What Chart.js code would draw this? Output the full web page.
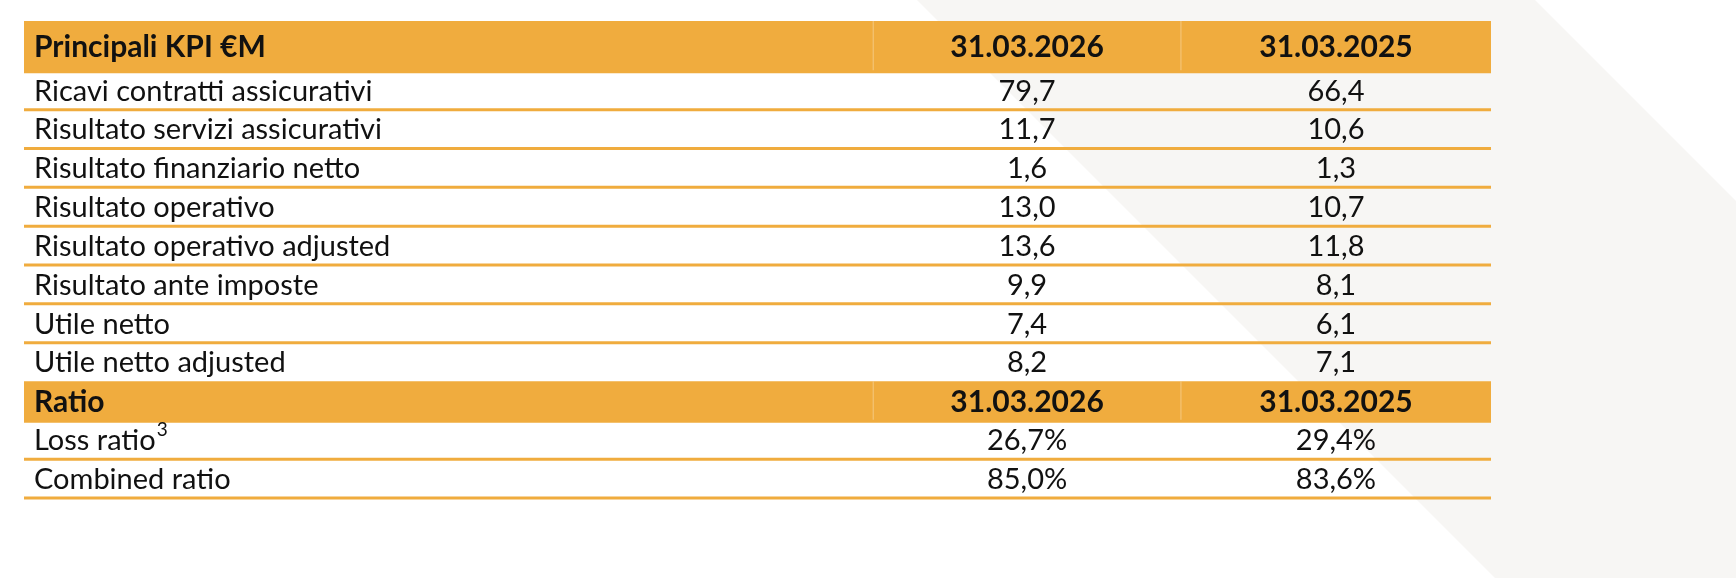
<!DOCTYPE html>
<html><head><meta charset="utf-8">
<script src="https://cdn.jsdelivr.net/npm/chart.js@4/dist/chart.umd.min.js"></script>
<style>html,body{margin:0;padding:0;background:#fff}#w{width:1736px;height:578px}</style>
</head><body><div id="w"><canvas id="c"></canvas></div>
<script>
const rowLabels = ["Principali KPI €M","Ricavi contratti assicurativi","Risultato servizi assicurativi","Risultato finanziario netto","Risultato operativo","Risultato operativo adjusted","Risultato ante imposte","Utile netto","Utile netto adjusted","Ratio","Loss ratio","Combined ratio"];
const headerRows = [0, 9];
const superscripts = {10: "3"};
const col2026 = ["31.03.2026","79,7","11,7","1,6","13,0","13,6","9,9","7,4","8,2","31.03.2026","26,7%","85,0%"];
const col2025 = ["31.03.2025","66,4","10,6","1,3","10,7","11,8","8,1","6,1","7,1","31.03.2025","29,4%","83,6%"];
const colBounds = [0, 1.835, 2.5, 3.17];

const ORANGE = "#F0AC3E";
const headerBars = rowLabels.map((_, i) => headerRows.includes(i) ? [colBounds[0], colBounds[3]] : null);

const bg = {
  id: "bg",
  beforeDraw(chart) {
    const ctx = chart.ctx;
    ctx.save();
    ctx.fillStyle = "#f7f6f4";
    ctx.beginPath();
    ctx.moveTo(917, 0); ctx.lineTo(1535, 0); ctx.lineTo(1535 + 578, 578); ctx.lineTo(917 + 578, 578);
    ctx.closePath(); ctx.fill();
    ctx.restore();
  }
};

const table = {
  id: "table",
  afterDatasetsDraw(chart) {
    const ctx = chart.ctx, x = chart.scales.x, y = chart.scales.y;
    const step = y.getPixelForValue(1) - y.getPixelForValue(0);
    const extra = 11;
    ctx.save();
    // taller first header
    ctx.fillStyle = ORANGE;
    const t0 = y.getPixelForValue(0) - step / 2;
    ctx.fillRect(x.left, t0 - extra, x.right - x.left, extra + 1);
    for (let i = 0; i < rowLabels.length; i++) {
      const yb = y.getPixelForValue(i) + step / 2;
      if (headerRows.includes(i)) {
        const top = yb - step - (i === 0 ? extra : 0);
        ctx.strokeStyle = "rgba(255,255,255,0.35)"; ctx.lineWidth = 1;
        [1, 2].forEach(k => { const xx = x.getPixelForValue(colBounds[k]); ctx.beginPath(); ctx.moveTo(xx, top); ctx.lineTo(xx, yb); ctx.stroke(); });
        ctx.strokeStyle = ORANGE; ctx.lineWidth = 3;
        ctx.beginPath(); ctx.moveTo(x.left, yb + 1); ctx.lineTo(x.right, yb + 1); ctx.stroke();
      } else if (!headerRows.includes(i + 1)) {
        ctx.strokeStyle = ORANGE; ctx.lineWidth = 3;
        ctx.beginPath(); ctx.moveTo(x.left, yb); ctx.lineTo(x.right, yb); ctx.stroke();
      }
    }
    ctx.fillStyle = "#111"; ctx.textBaseline = "middle";
    for (let i = 0; i < rowLabels.length; i++) {
      const yc = y.getPixelForValue(i) + 1 - (i === 0 ? extra / 2 : 0);
      const bold = headerRows.includes(i);
      const f = bold ? "bold 30px Lato" : "29px Lato";
      ctx.font = f; ctx.textAlign = "left";
      const lx = x.getPixelForValue(colBounds[0]) + 10;
      ctx.fillText(rowLabels[i], lx, yc);
      if (superscripts[i]) {
        const w = ctx.measureText(rowLabels[i]).width;
        ctx.font = "19px Lato"; ctx.fillText(superscripts[i], lx + w + 1, yc - 11);
      }
      ctx.font = f; ctx.textAlign = "center";
      ctx.fillText(col2026[i], x.getPixelForValue((colBounds[1] + colBounds[2]) / 2), yc);
      ctx.fillText(col2025[i], x.getPixelForValue((colBounds[2] + colBounds[3]) / 2), yc);
    }
    ctx.restore();
  }
};

new Chart(document.getElementById("c"), {
  type: "bar",
  data: { labels: rowLabels, datasets: [{ data: headerBars, backgroundColor: ORANGE, barPercentage: 1, categoryPercentage: 1, borderWidth: 0 }] },
  options: {
    indexAxis: "y", responsive: true, maintainAspectRatio: false, animation: false,
    layout: { padding: { left: 24, right: 245, top: 32, bottom: 80 } },
    plugins: { legend: { display: false }, tooltip: { enabled: false } },
    scales: {
      x: { type: "linear", min: colBounds[0], max: colBounds[3], display: false },
      y: { type: "category", offset: true, display: false }
    }
  },
  plugins: [bg, table]
});
</script></body></html>
